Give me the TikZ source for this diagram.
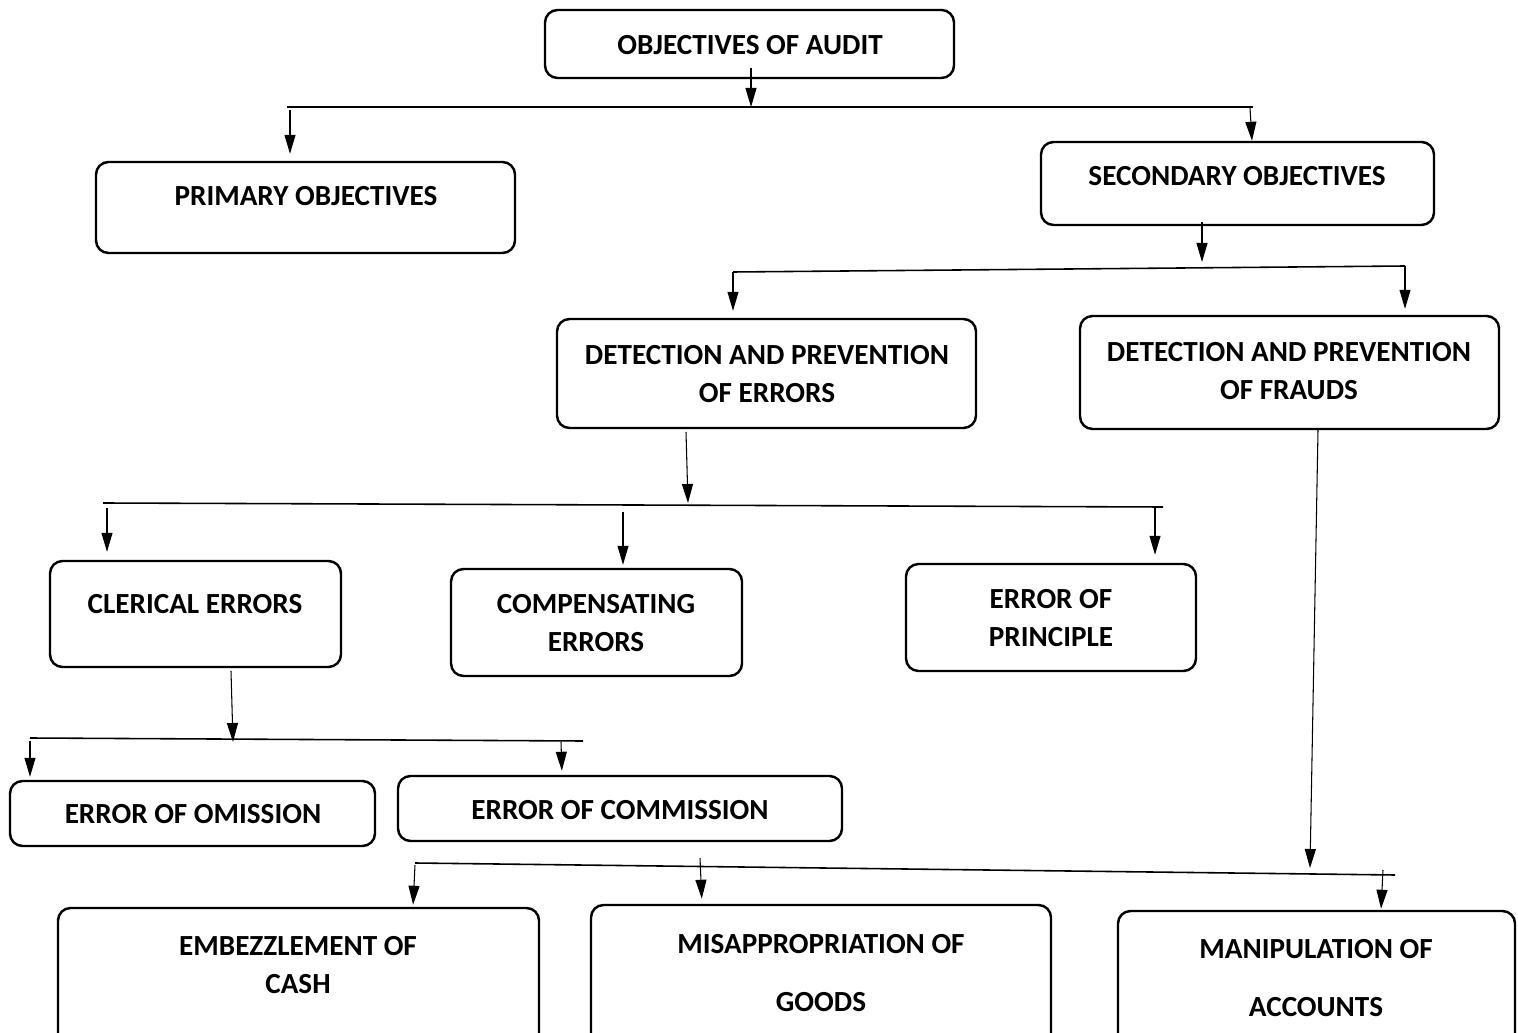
\documentclass[tikz,border=0pt]{standalone}
\usepackage{fontspec}
\setmainfont{Carlito}
\usetikzlibrary{arrows.meta,fit}
\begin{document}
\begin{tikzpicture}[x=0.02cm,y=-0.02cm,
  box/.style={draw, line width=1.4pt, rounded corners=0.25cm, inner sep=0pt},
  txt/.style={font=\bfseries\fontsize{16.6}{21.5}\selectfont, align=center, inner sep=0pt},
  arr/.style={-{Triangle[length=0.38cm,width=0.22cm]}, line width=0.6pt},
  bus/.style={line width=0.9pt}]
\useasboundingbox (0,0) rectangle (1518,1033);
\clip (0,0) rectangle (1518,1033);
% boxes
\node[box, fit={(545,10) (954,78)}] (a) {};
\node[box, fit={(96,162) (515,253)}] (p) {};
\node[box, fit={(1041,142) (1434,225)}] (s) {};
\node[box, fit={(557,319) (976,428)}] (de) {};
\node[box, fit={(1080,316) (1499,429)}] (df) {};
\node[box, fit={(50,561) (341,667)}] (ce) {};
\node[box, fit={(451,569) (742,676)}] (co) {};
\node[box, fit={(906,564) (1196,671)}] (ep) {};
\node[box, fit={(10,781) (375,846)}] (eo) {};
\node[box, fit={(398,776) (842,841)}] (ec) {};
\node[box, fit={(58,908) (539,1060)}] (em) {};
\node[box, fit={(591,905) (1051,1060)}] (mi) {};
\node[box, fit={(1118,911) (1515,1060)}] (ma) {};
% texts
\node[txt] (ta) at (750,45) {OBJECTIVES OF AUDIT};
\node[txt] (tp) at (306,196) {PRIMARY OBJECTIVES};
\node[txt] (ts) at (1237,176) {SECONDARY OBJECTIVES};
\node[txt] (tde) at (767,374) {DETECTION AND PREVENTION\\OF ERRORS};
\node[txt] (tdf) at (1289,371) {DETECTION AND PREVENTION\\OF FRAUDS};
\node[txt] (tce) at (195,604) {CLERICAL ERRORS};
\node[txt] (tco) at (596,623) {COMPENSATING\\ERRORS};
\node[txt] (tep) at (1051,618) {ERROR OF\\PRINCIPLE};
\node[txt] (teo) at (193,814) {ERROR OF OMISSION};
\node[txt] (tec) at (620,810) {ERROR OF COMMISSION};
\node[txt] (tem) at (298,965) {EMBEZZLEMENT OF\\CASH};
\node[txt] (tmi) at (821,973) {MISAPPROPRIATION OF\\[12pt]GOODS};
\node[txt] (tma) at (1316,978) {MANIPULATION OF\\[12pt]ACCOUNTS};
% buses
\coordinate (b1l) at (287,107); \coordinate (b1r) at (1253,107);
\coordinate (b2l) at (733,272); \coordinate (b2r) at (1405,266);
\coordinate (b3l) at (103,503); \coordinate (b3r) at (1163,507);
\coordinate (b4l) at (30,738);  \coordinate (b4r) at (583,741);
\coordinate (b5l) at (415,863); \coordinate (b5r) at (1395,875);
\draw[bus] (b1l) -- (b1r);
\draw[bus] (b2l) -- (b2r);
\draw[bus] (b3l) -- (b3r);
\draw[bus] (b4l) -- (b4r);
\draw[bus] (b5l) -- (b5r);
% connectors
\draw[arr] (751,68) -- (751,107);
\draw[arr, shorten >=0.14cm] (290,110) -- (p.north -| 290,0);
\draw[arr] (1250,108) -- (s.north -| 1252,0);
\draw[arr] (1202,222) -- (1202,262);
\draw[arr, shorten >=0.14cm] (733,272) -- (de.north -| 733,0);
\draw[arr, shorten >=0.12cm] (1405,266) -- (df.north -| 1405,0);
\draw[arr] (686,432) -- (688,503);
\draw[arr, shorten >=0.16cm] (107,508) -- (ce.north -| 107,0);
\draw[arr, shorten >=0.06cm] (623,512) -- (co.north -| 623,0);
\draw[arr, shorten >=0.16cm] (1155,508) -- (ep.north -| 1155,0);
\draw[arr] (231,671) -- (233,742);
\draw[arr, shorten >=0.06cm] (30,741) -- (eo.north -| 30,0);
\draw[arr, shorten >=0.08cm] (561,742) -- (ec.north -| 562,0);
\draw[arr] (1318,430) -- (1310,868);
\draw[arr, shorten >=0.04cm] (415,865) -- (em.north -| 413,0);
\draw[arr, shorten >=0.1cm] (700,858) -- (mi.north -| 702,0);
\draw[arr, shorten >=0.02cm] (1383,870) -- (ma.north -| 1381,0);
\end{tikzpicture}
\end{document}
